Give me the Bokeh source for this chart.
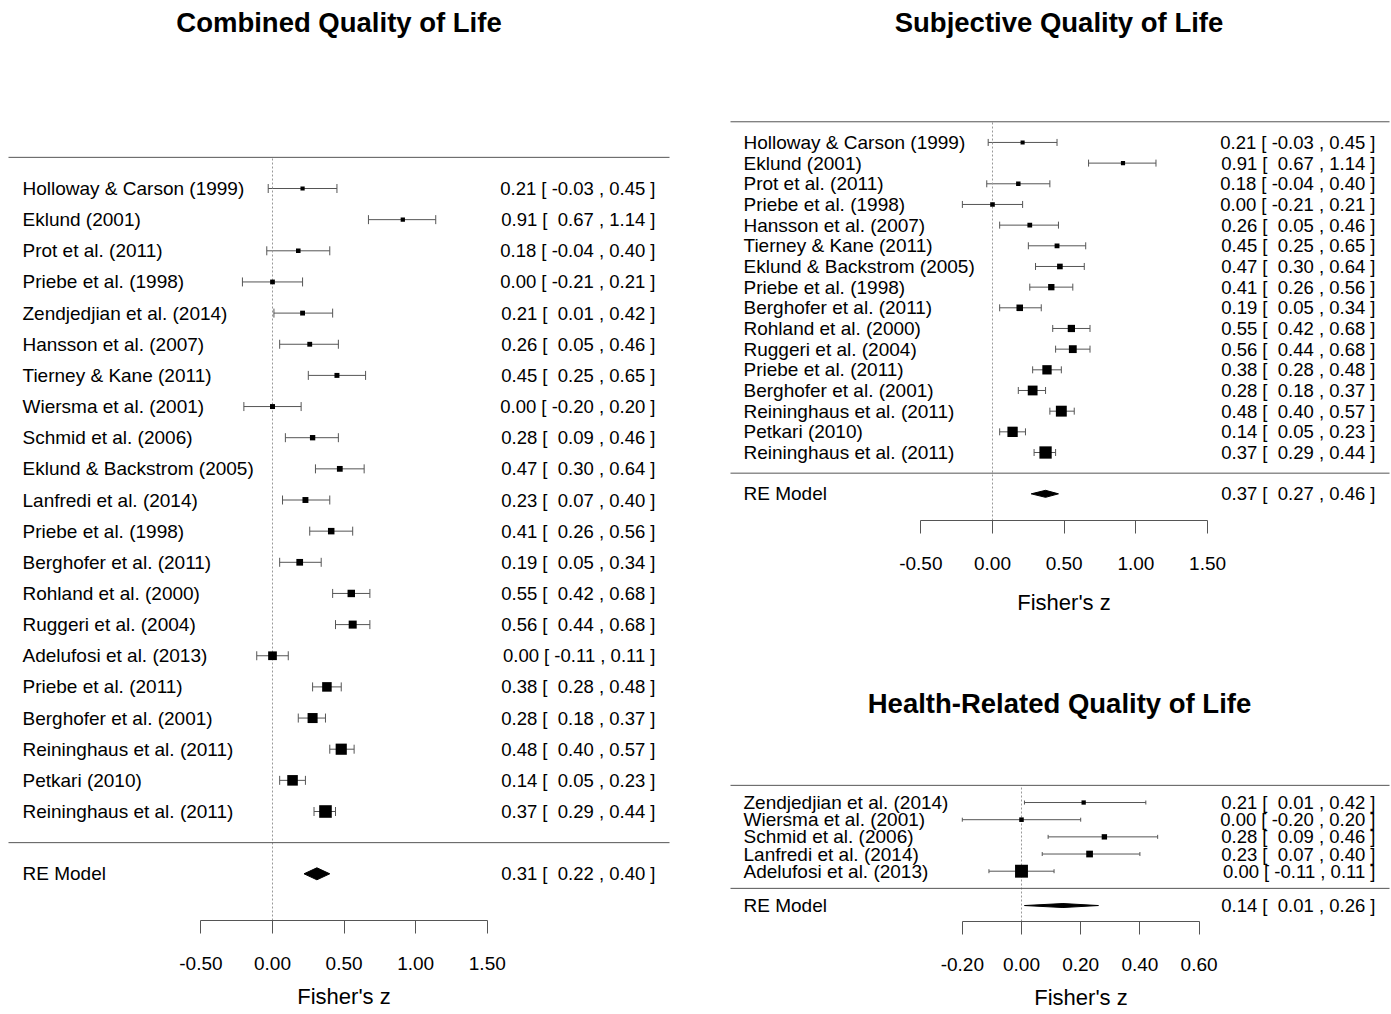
from bokeh.plotting import figure
from bokeh.models import Range1d, LinearAxis, FixedTicker, Whisker, TeeHead, ColumnDataSource
from bokeh.layouts import row, column
from bokeh.embed import file_html
from bokeh.resources import INLINE
from bokeh.core.properties import value

# ------------------------------------------------------------------ data
comb_title = "Combined Quality of Life"
comb_labels = ["Holloway & Carson (1999)", "Eklund (2001)", "Prot et al. (2011)",
               "Priebe et al. (1998)", "Zendjedjian et al. (2014)", "Hansson et al. (2007)",
               "Tierney & Kane (2011)", "Wiersma et al. (2001)", "Schmid et al. (2006)",
               "Eklund & Backstrom (2005)", "Lanfredi et al. (2014)", "Priebe et al. (1998)",
               "Berghofer et al. (2011)", "Rohland et al. (2000)", "Ruggeri et al. (2004)",
               "Adelufosi et al. (2013)", "Priebe et al. (2011)", "Berghofer et al. (2001)",
               "Reininghaus et al. (2011)", "Petkari (2010)", "Reininghaus et al. (2011)"]
comb_est = [0.21, 0.91, 0.18, 0.00, 0.21, 0.26, 0.45, 0.00, 0.28, 0.47, 0.23,
            0.41, 0.19, 0.55, 0.56, 0.00, 0.38, 0.28, 0.48, 0.14, 0.37]
comb_lo = [-0.03, 0.67, -0.04, -0.21, 0.01, 0.05, 0.25, -0.20, 0.09, 0.30, 0.07,
           0.26, 0.05, 0.42, 0.44, -0.11, 0.28, 0.18, 0.40, 0.05, 0.29]
comb_hi = [0.45, 1.14, 0.40, 0.21, 0.42, 0.46, 0.65, 0.20, 0.46, 0.64, 0.40,
           0.56, 0.34, 0.68, 0.68, 0.11, 0.48, 0.37, 0.57, 0.23, 0.44]
comb_re = [0.31, 0.22, 0.40]

subj_title = "Subjective Quality of Life"
subj_labels = ["Holloway & Carson (1999)", "Eklund (2001)", "Prot et al. (2011)",
               "Priebe et al. (1998)", "Hansson et al. (2007)", "Tierney & Kane (2011)",
               "Eklund & Backstrom (2005)", "Priebe et al. (1998)", "Berghofer et al. (2011)",
               "Rohland et al. (2000)", "Ruggeri et al. (2004)", "Priebe et al. (2011)",
               "Berghofer et al. (2001)", "Reininghaus et al. (2011)", "Petkari (2010)",
               "Reininghaus et al. (2011)"]
subj_est = [0.21, 0.91, 0.18, 0.00, 0.26, 0.45, 0.47, 0.41, 0.19, 0.55, 0.56,
            0.38, 0.28, 0.48, 0.14, 0.37]
subj_lo = [-0.03, 0.67, -0.04, -0.21, 0.05, 0.25, 0.30, 0.26, 0.05, 0.42, 0.44,
           0.28, 0.18, 0.40, 0.05, 0.29]
subj_hi = [0.45, 1.14, 0.40, 0.21, 0.46, 0.65, 0.64, 0.56, 0.34, 0.68, 0.68,
           0.48, 0.37, 0.57, 0.23, 0.44]
subj_re = [0.37, 0.27, 0.46]

hrql_title = "Health-Related Quality of Life"
hrql_labels = ["Zendjedjian et al. (2014)", "Wiersma et al. (2001)", "Schmid et al. (2006)",
               "Lanfredi et al. (2014)", "Adelufosi et al. (2013)"]
hrql_est = [0.21, 0.00, 0.28, 0.23, 0.00]
hrql_lo = [0.01, -0.20, 0.09, 0.07, -0.11]
hrql_hi = [0.42, 0.20, 0.46, 0.40, 0.11]
hrql_re = [0.14, 0.01, 0.26]

wide_ticks = [-0.5, 0.0, 0.5, 1.0, 1.5]
wide_tick_labels = ["-0.50", "0.00", "0.50", "1.00", "1.50"]
narrow_ticks = [-0.2, 0.0, 0.2, 0.4, 0.6]
narrow_tick_labels = ["-0.20", "0.00", "0.20", "0.40", "0.60"]

x_title = "Fisher's z"
re_label = "RE Model"

# ------------------------------------------------------------------ style
FONT = "Liberation Sans"
LINE = "#555555"
PAD = "\u00a0"


def fmt_col(vals):
    s = [f"{v:.2f}" for v in vals]
    w = max(len(t) for t in s)
    return [PAD * (w - len(t)) + t for t in s]


def forest(title, labels, est, lo, hi, re, ticks, tick_labels, L):
    k = len(labels)
    ppu, x0 = L["ppu"], L["x0"]
    r1, rs = L["row1"], L["rowpx"]

    def X(px):
        return (px - x0) / ppu

    def Y(py):
        return 1 + (r1 - py) / rs

    left, top, W, H = L["left"], L["top"], L["w"], L["h"]
    p = figure(width=W, height=H,
               x_range=Range1d(X(left), X(left + W)),
               y_range=Range1d(Y(top + H), Y(top)),
               x_axis_type=None, y_axis_type=None,
               toolbar_location=None, output_backend="svg",
               min_border=0, outline_line_color=None,
               background_fill_color="white", border_fill_color="white")

    rows = list(range(k, 0, -1))
    axis_row = Y(L["axis"])

    # reference line at zero
    p.segment(x0=[0], x1=[0], y0=[axis_row], y1=[k + 1],
              line_color="#999999", line_width=1, line_dash="2 2")
    # horizontal separators
    p.segment(x0=[X(L["hl"][0])] * 2, x1=[X(L["hl"][1])] * 2,
              y0=[0, k + 1], y1=[0, k + 1], line_color=LINE, line_width=1)

    # point sizes from inverse standard errors
    se = [(h - l) / (2 * 1.96) for l, h in zip(lo, hi)]
    w = [1 / s for s in se]
    wmin, wmax = min(w), max(w)
    psize = [L["sq"] * (0.5 + (wi - wmin) / (wmax - wmin)) for wi in w]

    src = ColumnDataSource(dict(row=rows, est=est, lo=lo, hi=hi, psize=psize))
    wh = Whisker(source=src, base="row", lower="lo", upper="hi", dimension="width",
                 line_color=LINE, line_width=1,
                 upper_head=TeeHead(size=L["cap"], line_color=LINE, line_width=1),
                 lower_head=TeeHead(size=L["cap"], line_color=LINE, line_width=1))
    p.add_layout(wh)
    p.scatter(x="est", y="row", size="psize", marker="square", source=src,
              fill_color="black", line_color="black", line_width=0)

    # summary diamond
    hh = L["dia"] / rs
    p.patch(x=[re[1], re[0], re[2], re[0]], y=[-1, -1 + hh, -1, -1 - hh],
            fill_color="black", line_color="black", line_width=1)

    # texts
    es = fmt_col(est + [re[0]])
    ls = fmt_col(lo + [re[1]])
    hs = fmt_col(hi + [re[2]])
    ann = [f"{a} [ {b} , {c} ]" for a, b, c in zip(es, ls, hs)]
    p.text(x=[X(L["lab"])] * (k + 1), y=rows + [-1], text=labels + [re_label],
           text_font=value(FONT), text_font_size=value("19px"),
           text_align="left", text_baseline="middle", text_color="black")
    p.text(x=[X(L["ann"])] * (k + 1), y=rows + [-1], text=ann,
           text_font=value(FONT), text_font_size=value("18.5px"),
           text_align="right", text_baseline="middle", text_color="black")
    p.text(x=[X(L["title"][0])], y=[Y(L["title"][1])], text=[title],
           text_font=value(FONT), text_font_size=value("27.5px"), text_font_style="bold",
           text_align="center", text_baseline="middle", text_color="black")

    ax = LinearAxis(fixed_location=axis_row, ticker=FixedTicker(ticks=ticks),
                    bounds=(ticks[0], ticks[-1]),
                    major_label_overrides=dict(zip(ticks, tick_labels)),
                    axis_label=x_title,
                    axis_line_color=LINE, major_tick_line_color=LINE,
                    major_tick_in=0, major_tick_out=13,
                    minor_tick_in=0, minor_tick_out=0,
                    major_label_standoff=L["mls"], axis_label_standoff=L["als"],
                    major_label_text_font=FONT, major_label_text_font_size="19px",
                    major_label_text_color="black",
                    axis_label_text_font=FONT, axis_label_text_font_size="22px",
                    axis_label_text_font_style="normal", axis_label_text_color="black")
    p.add_layout(ax, "below")
    return p


L_comb = dict(left=0, top=0, w=698, h=1012, x0=272, ppu=143.2, row1=811, rowpx=31.15,
              lab=22, ann=655, hl=(8, 669), title=(338.5, 22), axis=920,
              cap=9, dia=6, sq=8.4, mls=23, als=11)
L_subj = dict(left=698, top=0, w=692, h=648, x0=992, ppu=143.4, row1=452, rowpx=20.67,
              lab=743, ann=1375, hl=(730, 1389), title=(1058.5, 22), axis=520,
              cap=7, dia=3.5, sq=8.2, mls=23, als=17)
L_hrql = dict(left=698, top=648, w=692, h=364, x0=1021, ppu=296, row1=870.7, rowpx=17.17,
              lab=743, ann=1375, hl=(730, 1389), title=(1059, 703), axis=921,
              cap=4, dia=2, sq=8.6, mls=23, als=11)

p1 = forest(comb_title, comb_labels, comb_est, comb_lo, comb_hi, comb_re,
            wide_ticks, wide_tick_labels, L_comb)
p2 = forest(subj_title, subj_labels, subj_est, subj_lo, subj_hi, subj_re,
            wide_ticks, wide_tick_labels, L_subj)
p3 = forest(hrql_title, hrql_labels, hrql_est, hrql_lo, hrql_hi, hrql_re,
            narrow_ticks, narrow_tick_labels, L_hrql)

layout = row(p1, column(p2, p3))
open("out.html", "w").write(file_html(layout, INLINE))
